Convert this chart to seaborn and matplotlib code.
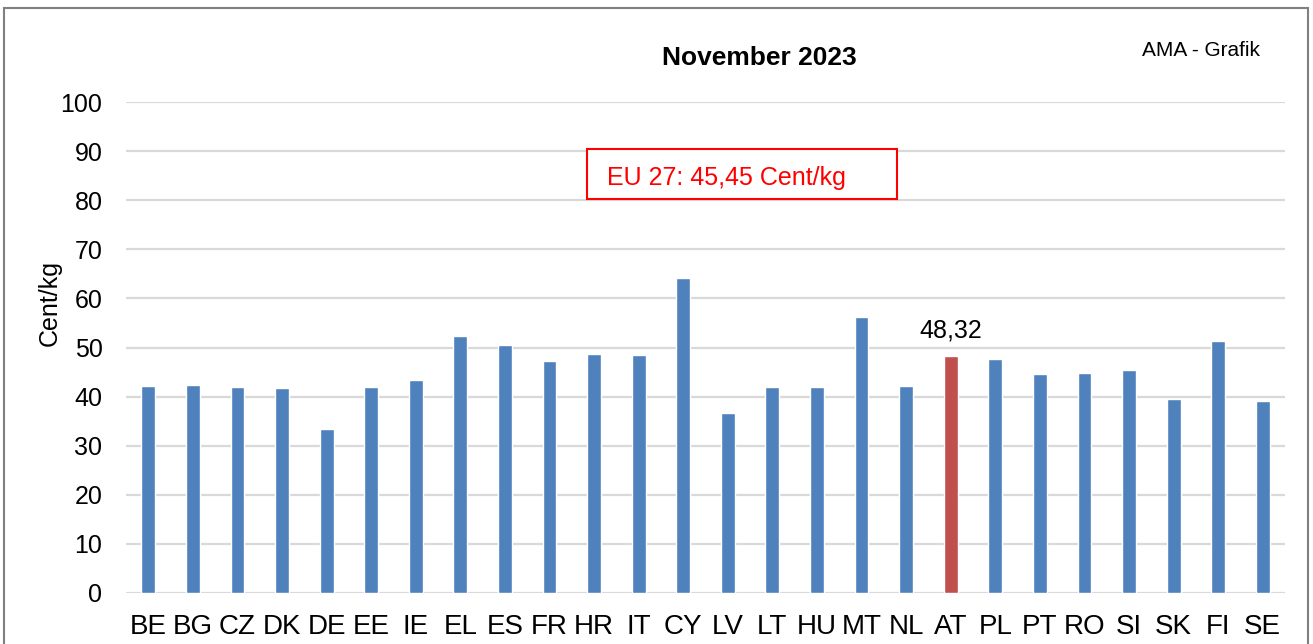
import pandas as pd
import seaborn as sns
import matplotlib.pyplot as plt
from matplotlib.patches import Rectangle

# --- data ---
countries = ['BE', 'BG', 'CZ', 'DK', 'DE', 'EE', 'IE', 'EL', 'ES', 'FR', 'HR', 'IT', 'CY',
             'LV', 'LT', 'HU', 'MT', 'NL', 'AT', 'PL', 'PT', 'RO', 'SI', 'SK', 'FI', 'SE']
prices = [42.1, 42.4, 42.0, 41.7, 33.3, 42.0, 43.4, 52.3, 50.6, 47.3, 48.7, 48.5, 64.2,
          36.7, 41.9, 42.0, 56.3, 42.2, 48.32, 47.7, 44.6, 44.8, 45.5, 39.6, 51.4, 39.1]
highlight = 'AT'
eu_avg_label = 'EU 27: 45,45 Cent/kg'
at_label = '48,32'
y_ticks = [0, 10, 20, 30, 40, 50, 60, 70, 80, 90, 100]

df = pd.DataFrame({'country': countries, 'price': prices})

sns.set_style('white')
plt.rcParams['font.family'] = ['Liberation Sans', 'DejaVu Sans']
plt.rcParams['text.color'] = 'black'
plt.rcParams['xtick.color'] = 'black'
plt.rcParams['ytick.color'] = 'black'

fig = plt.figure(figsize=(13.13, 6.44), dpi=100)
ax = fig.add_axes([0.096, 0.0792, 0.8827, 0.7624])

palette = {c: ('#c0504d' if c == highlight else '#4f81bd') for c in countries}
sns.barplot(data=df, x='country', y='price', hue='country', palette=palette,
            legend=False, width=0.31, ax=ax, saturation=1, zorder=3)

ax.set_ylim(0, 100)
ax.set_yticks(y_ticks)
ax.set_xlim(-0.5, len(countries) - 0.5)
ax.grid(axis='y', color='#d9d9d9', linewidth=1.6, zorder=0)
ax.grid(axis='x', visible=False)
for s in ax.spines.values():
    s.set_visible(False)
ax.tick_params(axis='both', length=0)
ax.tick_params(axis='x', labelsize=20, pad=15)
ax.tick_params(axis='y', labelsize=18, pad=17)
ax.set_xlabel('')
ax.set_ylabel('')

# y axis title sits a bit above the middle of the axis
fig.text(50 / 1313, 1 - 303 / 644, 'Cent/kg', rotation=90, ha='center', va='center',
         fontsize=18)

# value label above AT
i_at = countries.index(highlight)
ax.annotate(at_label, (i_at, prices[i_at]), xytext=(0, 13.5), textcoords='offset points',
            ha='center', va='baseline', fontsize=18)

# titles and source note
fig.text(759 / 1313, 1 - 65 / 644, 'November 2023', ha='center', va='baseline',
         fontsize=19, fontweight='bold')
fig.text(1201 / 1313, 1 - 56 / 644, 'AMA - Grafik', ha='center', va='baseline', fontsize=15)

# EU average box
fig.patches.append(Rectangle((586.7 / 1313, 1 - 199.3 / 644), 310 / 1313, 50 / 644,
                             transform=fig.transFigure, facecolor='white',
                             edgecolor='#ff0000', linewidth=1.5, zorder=5))
fig.text(606.7 / 1313, 1 - 185 / 644, eu_avg_label, ha='left', va='baseline',
         fontsize=18, color='#ff0000', zorder=6)

# outer frame
fig.patches.append(Rectangle((0.003, -0.1), 0.993, 1.087, transform=fig.transFigure,
                             fill=False, edgecolor='#808080', linewidth=1.5))

fig.savefig('out.png', dpi=100)
